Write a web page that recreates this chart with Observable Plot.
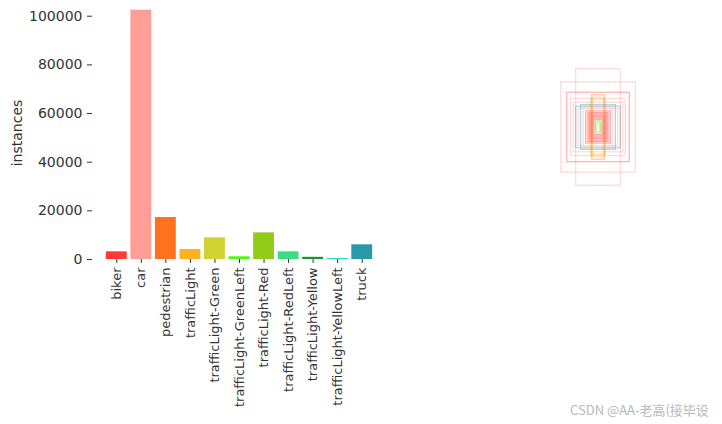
<!DOCTYPE html>
<html>
<head>
<meta charset="utf-8">
<script src="https://cdn.jsdelivr.net/npm/d3@7"></script>
<script src="https://cdn.jsdelivr.net/npm/@observablehq/plot@0.6"></script>
<style>
  html, body { margin: 0; padding: 0; background: #fff; }
  #wrap { position: relative; width: 722px; height: 424px; overflow: hidden; }
  #left { position: absolute; left: 0; top: 0; }
  #right { position: absolute; left: 474px; top: 3px; }
  #wm { position: absolute; left: 570px; top: 400px; font: 13px "Noto Sans CJK SC", "Noto Sans", sans-serif; color: #b8b8b8; white-space: nowrap; }
</style>
</head>
<body>
<div id="wrap">
  <div id="left"></div>
  <div id="right"></div>
  <div id="wm">CSDN @AA-老高(接毕设</div>
</div>
<script>
// class names, instance counts and class colours
const categories = ["biker", "car", "pedestrian", "trafficLight", "trafficLight-Green", "trafficLight-GreenLeft", "trafficLight-Red", "trafficLight-RedLeft", "trafficLight-Yellow", "trafficLight-YellowLeft", "truck"];
const instances = [3150, 102500, 17250, 4100, 8900, 1100, 10950, 3150, 900, 350, 6050];
const classColors = ["#FF3838", "#FF9D97", "#FF701F", "#FFB21D", "#CFD231", "#48F90A", "#92CC17", "#3DDB86", "#1A9334", "#00D4BB", "#2C99A8"];
const yTicks = [0, 20000, 40000, 60000, 80000, 100000];

// label boxes (normalised width / height, class index) for the overlay panel
const boxW = [0.18, 0.30, 0.252, 0.22, 0.20, 0.18, 0.16, 0.052, 0.044, 0.06, 0.10, 0.09, 0.08, 0.072, 0.064, 0.056, 0.048, 0.04, 0.032, 0.12, 0.14, 0.02, 0.016];
const boxH = [0.47, 0.364, 0.28, 0.23, 0.20, 0.168, 0.15, 0.26, 0.24, 0.22, 0.13, 0.12, 0.116, 0.106, 0.096, 0.088, 0.08, 0.07, 0.06, 0.16, 0.18, 0.05, 0.036];
const boxCls = [1, 1, 0, 1, 1, 10, 1, 2, 3, 3, 0, 1, 0, 0, 0, 0, 0, 0, 0, 1, 10, 6, 5];

const bars = categories.map((c, i) => ({cat: c, n: instances[i], color: classColors[i]}));

const left = Plot.plot({
  width: 390,
  height: 424,
  marginTop: 6,
  marginBottom: 165,
  marginLeft: 92,
  marginRight: 4,
  style: {fontFamily: "DejaVu Sans, sans-serif", color: "#333", background: "transparent"},
  x: {domain: categories, paddingInner: 0.15, paddingOuter: 0.075, insetLeft: 12, insetRight: 12, round: false},
  y: {domain: [0, 104000]},
  marks: [
    Plot.barY(bars, {x: "cat", y: "n", fill: "color"}),
    Plot.axisY({ticks: yTicks, tickFormat: d3.format("d"), tickSize: 5, tickPadding: 5, fontSize: 14,
      label: "instances", labelAnchor: "center", labelArrow: "none", labelOffset: 80}),
    Plot.axisX({tickRotate: -90, tickSize: 4, tickPadding: 4, fontSize: 13, label: null})
  ]
});
document.getElementById("left").appendChild(left);

const boxes = boxW.map((w, i) => ({x1: 0.5 - w / 2, x2: 0.5 + w / 2, y1: 0.5 - boxH[i] / 2, y2: 0.5 + boxH[i] / 2, color: classColors[boxCls[i]]}));

const right = Plot.plot({
  width: 250,
  height: 250,
  margin: 0,
  style: {background: "transparent"},
  x: {domain: [0, 1], axis: null},
  y: {domain: [0, 1], axis: null},
  marks: [
    Plot.rect(boxes, {x1: "x1", x2: "x2", y1: "y1", y2: "y2", stroke: "color", fill: "none", strokeOpacity: 0.4, strokeWidth: 1.2})
  ]
});
document.getElementById("right").appendChild(right);
</script>
</body>
</html>
